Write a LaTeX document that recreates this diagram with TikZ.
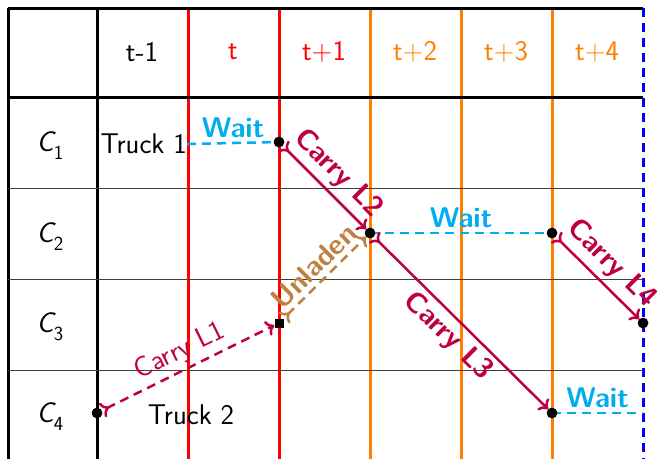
\documentclass[tikz,border=0pt]{standalone}
\usepackage{fontspec}
\usetikzlibrary{arrows.meta}
\definecolor{wcyan}{RGB}{0,174,239}
\definecolor{lpurple}{RGB}{191,0,64}
\definecolor{lbrown}{RGB}{191,128,64}
\definecolor{lorange}{RGB}{255,128,0}
\newcommand{\rowlbl}[1]{{\sffamily\slshape C\raisebox{-0.28em}{\upshape\fontsize{20}{21}\selectfont #1}}}
\begin{document}
\begin{tikzpicture}[x=1pt,y=-1pt,
  font=\sffamily\fontsize{28.5}{33}\selectfont,
  >={To[length=8pt,width=16pt]},
  grid/.style={line width=3pt},
  thinrule/.style={line width=1pt,black!75},
  dot/.style={circle,fill=black,inner sep=0pt,minimum size=10.5pt},
  sq/.style={rectangle,fill=black,inner sep=0pt,minimum size=9pt},
  carry/.style={lpurple,line width=2.5pt,>->},
  carrydash/.style={lpurple,line width=2.5pt,dash pattern=on 9pt off 6pt,>->},
  unladen/.style={lbrown,line width=2.5pt,dash pattern=on 9pt off 6pt,>->},
  waitline/.style={wcyan,line width=2.5pt,dash pattern=on 9pt off 6pt},
  boldlbl/.style={font=\sffamily\bfseries\fontsize{28.5}{33}\selectfont},
  hdr/.style={anchor=center}
]
\useasboundingbox (0,0) rectangle (658,459);
% vertical lines
\draw[grid,black] (8,8) -- (8,459);
\draw[grid,black] (97,8) -- (97,459);
\draw[grid,red] (188,8) -- (188,459);
\draw[grid,red] (279,8) -- (279,459);
\draw[grid,lorange] (370,8) -- (370,459);
\draw[grid,lorange] (461,8) -- (461,459);
\draw[grid,lorange] (552,8) -- (552,459);
\draw[grid,blue,dash pattern=on 9pt off 6pt] (643,8) -- (643,459);
% horizontal lines
\draw[thinrule] (8,188) -- (643,188);
\draw[thinrule] (8,279) -- (643,279);
\draw[thinrule] (8,370) -- (643,370);
\draw[grid,black] (8,8) -- (643,8);
\draw[grid,black] (8,97) -- (643,97);
% headers
\node[hdr] (h0) at (142,52) {t-1};
\node[hdr,red] (h1) at (233,52) {t};
\node[hdr,red] (h2) at (324,52) {t+1};
\node[hdr,lorange] (h3) at (415,52) {t+2};
\node[hdr,lorange] (h4) at (506,52) {t+3};
\node[hdr,lorange] (h5) at (597,52) {t+4};
% row labels
\node (c1) at (50,146) {\rowlbl{1}};
\node (c2) at (50,237) {\rowlbl{2}};
\node (c3) at (50,327) {\rowlbl{3}};
\node (c4) at (50,417) {\rowlbl{4}};
% trucks
\node[anchor=east,inner sep=0pt] (truck1) at (187,144) {Truck 1};
\node (truck2) at (191,415) {Truck 2};
% points
\node[dot] (p1) at (279,142) {};
\node[dot] (p2) at (370,233) {};
\node[dot] (p3) at (552,233) {};
\node[dot] (p4) at (643,323) {};
\node[dot] (p5) at (552,413) {};
\node[dot] (p6) at (97,413) {};
\node[sq] (q) at (279,323) {};
\coordinate (w3end) at (643,413);
% connectors
\draw[waitline] (truck1.east) -- node[midway,above=1pt,wcyan,boldlbl] {Wait} (p1.center);
\draw[waitline] (p2.center) -- node[midway,above=1pt,wcyan,boldlbl] {Wait} (p3.center);
\draw[waitline] (p5.center) -- node[midway,above=1pt,wcyan,boldlbl] {Wait} (w3end);
\draw[carrydash] (p6) -- node[midway,above=1pt,sloped] {Carry L1} (q);
\draw[unladen] (q) -- node[midway,above=1pt,sloped,boldlbl] {Unladen} (p2);
\draw[carry] (p1) -- node[midway,above=2pt,sloped,boldlbl] {Carry L2} (p2);
\draw[carry] (p2) -- node[midway,below=1pt,sloped,boldlbl] {Carry L3} (p5);
\draw[carry] (p3) -- node[midway,above=2pt,sloped,boldlbl] {Carry L4} (p4);
% redraw dots on top
\node[dot] at (p1) {};
\node[dot] at (p2) {};
\node[dot] at (p3) {};
\node[dot] at (p4) {};
\node[dot] at (p5) {};
\node[dot] at (p6) {};
\node[sq] at (q) {};
\end{tikzpicture}
\end{document}
